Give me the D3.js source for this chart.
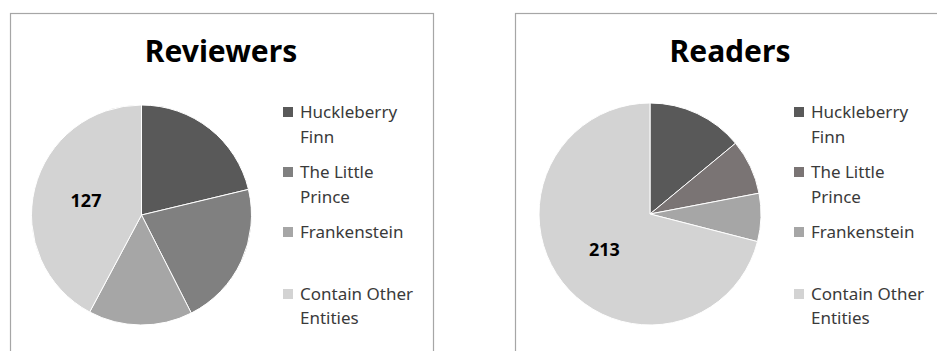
<!DOCTYPE html>
<html>
<head>
<meta charset="utf-8">
<script src="https://cdn.jsdelivr.net/npm/d3@7"></script>
<style>
  body { margin: 0; background: #fff; }
  text { font-family: "Noto Sans", "Open Sans", sans-serif; }
</style>
</head>
<body>
<div id="my_dataviz"></div>
<script>
// data
var categories = ["Huckleberry Finn", "The Little Prince", "Frankenstein", "Contain Other Entities"];
var legendLines = [["Huckleberry", "Finn"], ["The Little", "Prince"], ["Frankenstein"], ["Contain Other", "Entities"]];
var reviewers = [64, 64, 46, 127];
var readers = [42, 24, 21, 213];
var titles = ["Reviewers", "Readers"];

var svg = d3.select("#my_dataviz")
    .append("svg")
    .attr("width", 937)
    .attr("height", 351);

// one chart panel each
var panels = [
    { title: titles[0], values: reviewers, x: 10.5, w: 423, cx: 141.5, cy: 215, r: 110,
      colors: ["#595959", "#808080", "#a6a6a6", "#d3d3d3"], titleX: 221, legX: 283 },
    { title: titles[1], values: readers, x: 515.5, w: 500, cx: 650, cy: 214, r: 111,
      colors: ["#595959", "#7a7474", "#a6a6a6", "#d3d3d3"], titleX: 730, legX: 794 }
];

// legend line positions (centre of each text line)
var legendY = [[112, 137], [172, 197], [232], [294, 318]];

var pie = d3.pie().sort(null).value(function(d) { return d; });

panels.forEach(function(p) {
    var g = svg.append("g");

    g.append("rect")
        .attr("x", p.x)
        .attr("y", 13.5)
        .attr("width", p.w)
        .attr("height", 400)
        .attr("fill", "#fff")
        .attr("stroke", "#a6a6a6")
        .attr("stroke-width", 1.2);

    g.append("text")
        .attr("x", p.titleX)
        .attr("y", 62)
        .attr("text-anchor", "middle")
        .attr("font-size", 30)
        .attr("font-weight", "bold")
        .attr("fill", "#000")
        .text(p.title);

    var arc = d3.arc().innerRadius(0).outerRadius(p.r);
    var labelArc = d3.arc().innerRadius(0).outerRadius(p.r * 1.04);

    var pieG = g.append("g")
        .attr("transform", "translate(" + p.cx + "," + p.cy + ")");

    var arcs = pie(p.values);

    pieG.selectAll("path")
        .data(arcs)
        .enter()
        .append("path")
        .attr("d", arc)
        .attr("fill", function(d, i) { return p.colors[i]; })
        .attr("stroke", "#fff")
        .attr("stroke-width", 1);

    // only the largest slice carries its value
    var last = arcs[arcs.length - 1];
    var c = labelArc.centroid(last);
    pieG.append("text")
        .attr("x", c[0])
        .attr("y", c[1])
        .attr("dy", "0.35em")
        .attr("text-anchor", "middle")
        .attr("font-size", 18)
        .attr("font-weight", "bold")
        .attr("fill", "#000")
        .text(last.value);

    // legend
    categories.forEach(function(cat, i) {
        g.append("rect")
            .attr("x", p.legX)
            .attr("y", legendY[i][0] - 5)
            .attr("width", 10)
            .attr("height", 10)
            .attr("fill", p.colors[i]);
        legendLines[i].forEach(function(line, j) {
            g.append("text")
                .attr("x", p.legX + 17)
                .attr("y", legendY[i][j])
                .attr("dy", "0.35em")
                .attr("font-size", 17)
                .attr("fill", "#3a3a3a")
                .text(line);
        });
    });
});
</script>
</body>
</html>
